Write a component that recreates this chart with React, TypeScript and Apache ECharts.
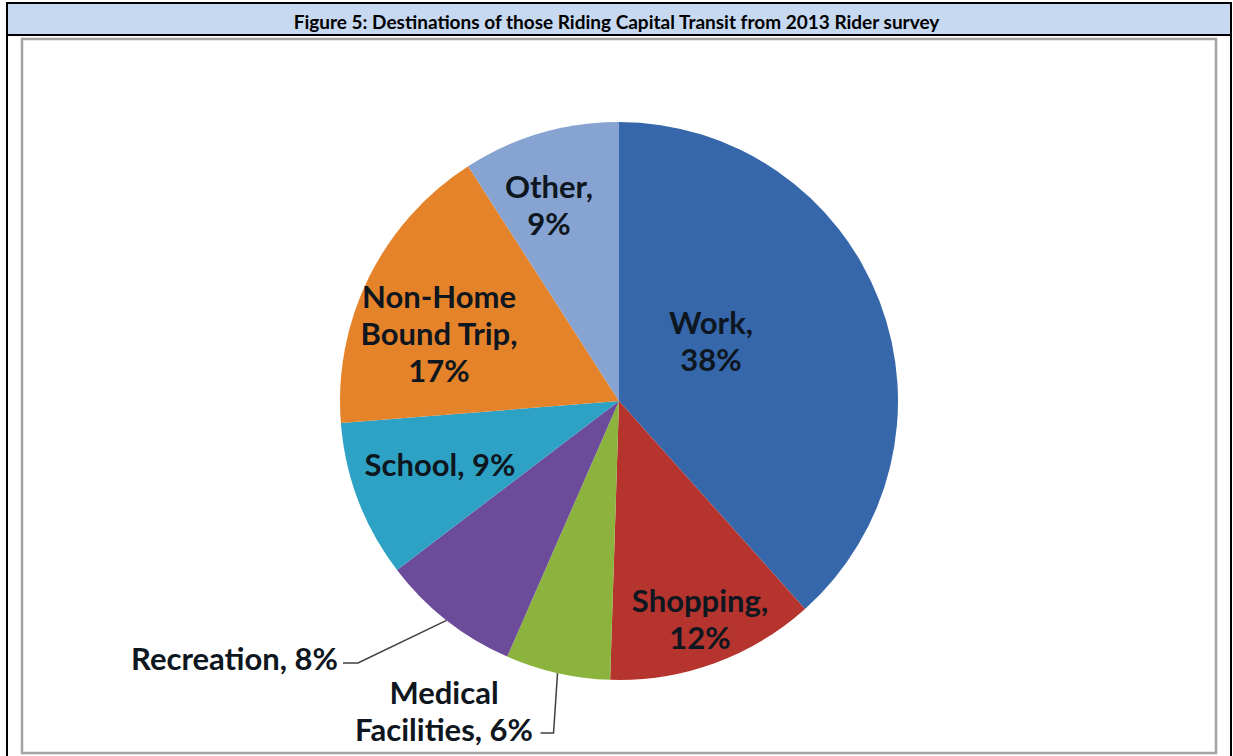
import React, { useEffect, useRef } from "react";
import * as echarts from "echarts";

const titleText = "Figure 5: Destinations of those Riding Capital Transit from 2013 Rider survey";
const categories = ["Work", "Shopping", "Medical Facilities", "Recreation", "School", "Non-Home Bound Trip", "Other"];
const values = [38, 12, 6, 8, 9, 17, 9];
const labelLines = [
  ["Work,", "38%"],
  ["Shopping,", "12%"],
  ["Medical", "Facilities, 6%"],
  ["Recreation, 8%"],
  ["School, 9%"],
  ["Non-Home", "Bound Trip,", "17%"],
  ["Other,", "9%"],
];
const colors = ["#3567aa", "#b5342e", "#8bb33e", "#6c4b9a", "#2ea2c5", "#e4832a", "#86a3d2"];
const outsideLabels = ["Medical Facilities", "Recreation"];

// label placement (layout only)
const labelPos: Record<string, [number, number, string]> = {
  Work: [711, 340, "center"],
  Shopping: [700, 618, "center"],
  "Medical Facilities": [444, 710, "center"],
  Recreation: [338, 658, "right"],
  School: [440, 464, "center"],
  "Non-Home Bound Trip": [439, 333, "center"],
  Other: [549, 204, "center"],
};

export default function App() {
  const ref = useRef<HTMLDivElement>(null);
  useEffect(() => {
    document.body.style.margin = "0";
    const chart = echarts.init(ref.current!, undefined, { renderer: "svg" });
    const data = categories.map((name, i) => {
      const outside = outsideLabels.includes(name);
      return {
        name,
        value: values[i],
        itemStyle: { color: colors[i] },
        label: { position: outside ? "outside" : "inside" },
        labelLine: { show: outside, lineStyle: { color: "#404040", width: 1.5 } },
      };
    });
    chart.setOption({
      animation: false,
      backgroundColor: "#ffffff",
      title: {
        text: titleText,
        left: "center",
        top: 7,
        textStyle: { fontFamily: "Lato", fontWeight: "bold", fontSize: 19, color: "#000" },
      },
      graphic: [
        { type: "rect", z: -10, shape: { x: 7, y: 3, width: 1224, height: 780 }, style: { fill: "#fff", stroke: "#000", lineWidth: 2 } },
        { type: "rect", z: -9, shape: { x: 7, y: 3, width: 1224, height: 32 }, style: { fill: "#c6d9f1", stroke: "#000", lineWidth: 2 } },
        { type: "rect", z: -8, shape: { x: 22, y: 39, width: 1194, height: 714 }, style: { fill: "#fff", stroke: "#a3a3a3", lineWidth: 2.5 } },
      ],
      series: [
        {
          type: "pie",
          center: [619, 401],
          radius: 279,
          startAngle: 90,
          clockwise: true,
          data,
          itemStyle: { borderWidth: 0 },
          label: {
            show: true,
            fontFamily: "Lato",
            fontWeight: "bold",
            fontSize: 31,
            lineHeight: 37,
            color: "#0e1620",
            align: "center",
            formatter: (p: any) => labelLines[p.dataIndex].join("\n"),
          },
          labelLayout: (p: any) => {
            const name = categories[p.dataIndex];
            const pos = labelPos[name];
            const res: any = { x: pos[0], y: pos[1], align: pos[2], verticalAlign: "middle" };
            if (name === "Recreation" && p.labelLinePoints) {
              const e = p.labelLinePoints[0];
              res.labelLinePoints = [e, [358, 663], [343, 663]];
            }
            if (name === "Medical Facilities" && p.labelLinePoints) {
              const e = p.labelLinePoints[0];
              res.labelLinePoints = [e, [e[0] - 4, 733], [e[0] - 17, 733]];
            }
            return res;
          },
        },
      ],
    });
    return () => chart.dispose();
  }, []);
  return <div ref={ref} style={{ width: 1233, height: 756 }} />;
}
